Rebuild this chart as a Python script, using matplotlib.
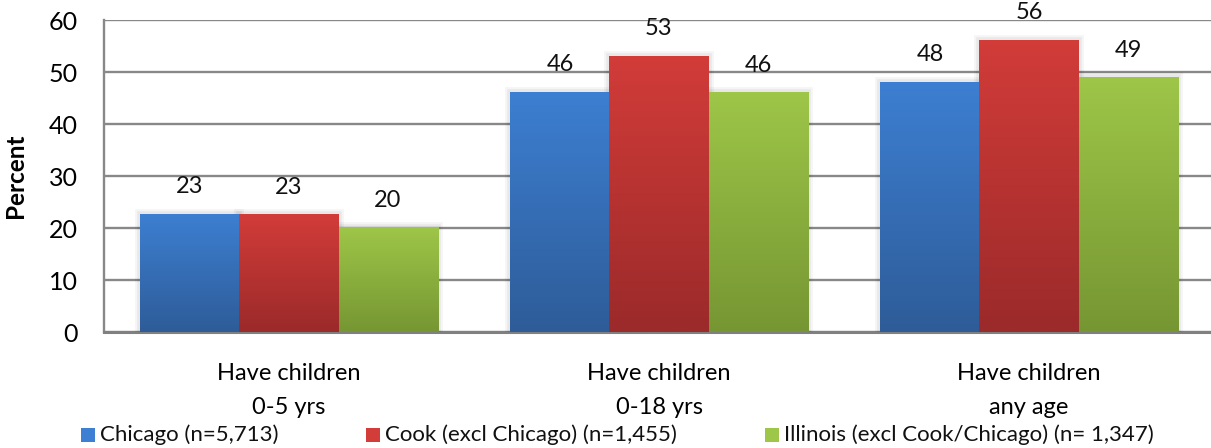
import numpy as np
import matplotlib
matplotlib.use("Agg")
import matplotlib.pyplot as plt
from matplotlib.colors import LinearSegmentedColormap
from matplotlib.patches import Rectangle
import matplotlib.patheffects as pe

plt.rcParams["font.family"] = ["Lato", "DejaVu Sans"]

categories = ["Have children\n0-5 yrs", "Have children\n0-18 yrs", "Have children\nany age"]
series_names = ["Chicago (n=5,713)", "Cook (excl Chicago) (n=1,455)",
                "Illinois (excl Cook/Chicago) (n= 1,347)"]
chicago = [22.7, 46.2, 48.1]
cook = [22.6, 53.1, 56.2]
illinois = [20.1, 46.1, 49.0]
values = [chicago, cook, illinois]

# (top colour, bottom colour) for each series gradient
shades = [("#3d7fd2", "#2e5c98"), ("#d23c39", "#9b2a2a"), ("#9ec648", "#769633")]

W, H = 1211, 448
fig = plt.figure(figsize=(W / 100, H / 100), dpi=100)
ax = fig.add_axes([104 / W, (H - 332) / H, 1110 / W, 312 / H])

x = np.arange(len(categories))
width = 0.2676
grad = np.linspace(1, 0, 256).reshape(-1, 1)

for i, (vals, (top, bot)) in enumerate(zip(values, shades)):
    pos = x + (i - 1) * width
    bars = ax.bar(pos, vals, width, color=top, linewidth=0, zorder=3,
                  path_effects=[pe.Stroke(linewidth=7, foreground="#000000", alpha=0.04),
                                pe.Stroke(linewidth=4, foreground="#000000", alpha=0.05),
                                pe.Normal()])
    cmap = LinearSegmentedColormap.from_list(f"g{i}", [bot, top])
    for b, v in zip(bars, vals):
        x0, y0 = b.get_x(), b.get_y()
        im = ax.imshow(grad, cmap=cmap, aspect="auto", zorder=4,
                       extent=[x0, x0 + b.get_width(), y0, y0 + b.get_height()])
        im.set_clip_path(b)
        ax.text(b.get_x() + b.get_width() / 2, v + 5.2, f"{round(v):d}",
                ha="center", va="center", fontsize=17, color="#111111", zorder=5)

ax.set_xlim(-0.5, 2.5)
ax.set_ylim(0, 60)
ax.set_yticks(range(0, 61, 10))
ax.set_xticks(x)
ax.set_xticklabels(categories, fontsize=17, linespacing=1.8)
ax.tick_params(axis="y", length=0, pad=19, labelsize=18)
ax.tick_params(axis="x", length=0, pad=22)
ax.grid(axis="y", color="#888888", linewidth=1.7, zorder=0)
ax.set_axisbelow(True)
for s in ["top", "right"]:
    ax.spines[s].set_visible(False)
ax.spines["left"].set_color("#888888")
ax.spines["left"].set_linewidth(1.7)
ax.spines["bottom"].set_color("#808080")
ax.spines["bottom"].set_linewidth(2.2)

ax.set_ylabel("Percent", fontsize=17.5, fontweight="bold")
ax.yaxis.set_label_coords((27 - 104) / 1110, 0.5)

# legend along the bottom edge
legend_x = [81, 366, 765]
for name, (top, bot), lx in zip(series_names, shades, legend_x):
    fig.patches.append(Rectangle((lx / W, (H - 442) / H), 14 / W, 14 / H,
                                 transform=fig.transFigure, facecolor=top,
                                 edgecolor="none"))
    fig.text((lx + 19) / W, (H - 435) / H, name, fontsize=16,
             va="center", ha="left", color="#111111")

fig.savefig("out.png", dpi=100)
